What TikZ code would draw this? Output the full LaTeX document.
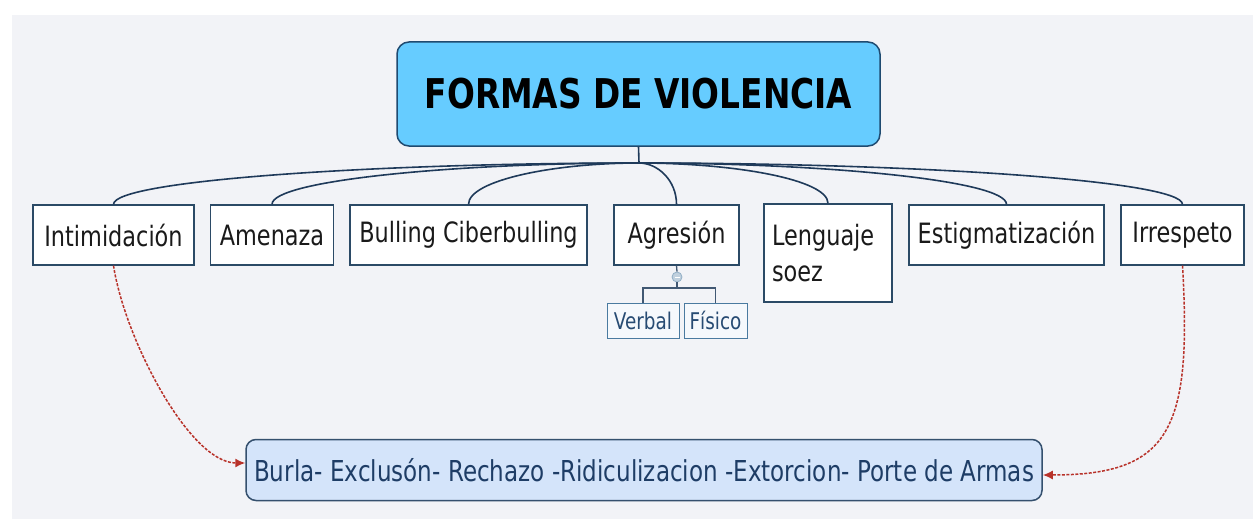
\documentclass[tikz,border=0pt]{standalone}
\usepackage{fontspec}
\setmainfont{DejaVu Sans}[FakeStretch=0.8]
\usetikzlibrary{arrows.meta,calc}
\definecolor{bggray}{HTML}{F2F3F7}
\definecolor{rootfill}{HTML}{66CCFF}
\definecolor{rootline}{HTML}{1F4A70}
\definecolor{branchcol}{HTML}{1F3A5A}
\definecolor{childline}{HTML}{2B4A66}
\definecolor{childtext}{HTML}{1A1A1A}
\definecolor{bottomfill}{HTML}{D4E4FA}
\definecolor{bottomline}{HTML}{35506E}
\definecolor{bottomtext}{HTML}{1E3D66}
\definecolor{subline}{HTML}{4A7AA0}
\definecolor{subfill}{HTML}{F5F8FC}
\definecolor{subtext}{HTML}{274B73}
\definecolor{redarrow}{HTML}{B8322A}
\tikzset{
  rootbox/.style={draw=rootline, line width=1.5pt, fill=rootfill, rounded corners=12pt,
    minimum width=483, minimum height=104, inner sep=0pt,
    font=\fontsize{41}{44}\selectfont\bfseries, text=black},
  childbox/.style={draw=childline, line width=1.3pt, fill=white, minimum height=60, inner sep=0pt,
    font=\fontsize{28}{36}\selectfont, text=childtext},
  subbox/.style={draw=subline, line width=1pt, fill=subfill, minimum height=35, inner sep=0pt,
    font=\fontsize{23}{25}\selectfont, text=subtext},
  bottombox/.style={draw=bottomline, line width=1.5pt, fill=bottomfill, rounded corners=10pt,
    minimum width=796, minimum height=61, inner sep=0pt,
    font=\fontsize{28.8}{32}\selectfont, text=bottomtext},
  branch/.style={draw=branchcol, line width=1.6pt},
  subbranch/.style={draw=branchcol!85, line width=1.3pt},
  relation/.style={draw=redarrow, line width=1.5pt, dash pattern=on 3pt off 1.5pt,
    -{Latex[length=10pt,width=9pt]}},
  knotstyle/.style={circle, draw=subline!60, fill=subline!35, line width=0.8pt, minimum size=10, inner sep=0pt},
}
\begin{document}
\begin{tikzpicture}[x=1pt,y=-1pt]
\useasboundingbox (0,0) rectangle (1253,519);
\fill[white] (0,0) rectangle (1253,519);
\fill[bggray] (12,15) rectangle (1253,519);

\node[rootbox] (root) at (638.5,94) {FORMAS DE VIOLENCIA};
\coordinate (hub) at (639,163);

\node[childbox, minimum width=161] (int) at (113.5,235) {Intimidación};
\node[childbox, minimum width=123] (ame) at (272,235) {Amenaza};
\node[childbox, minimum width=237] (bul) at (468.5,235) {Bulling Ciberbulling};
\node[childbox, minimum width=125] (agr) at (676.5,235) {Agresión};
\node[childbox, minimum width=128, minimum height=98, align=left, text width=112] (len) at (828,253) {Lenguaje\\soez};
\node[childbox, minimum width=195] (est) at (1006.5,235) {Estigmatización};
\node[childbox, minimum width=123] (irr) at (1182.5,235) {Irrespeto};

\draw[branch] (root.south) -- (hub);
\foreach \c in {int,ame,bul,agr,len,est,irr}{
  \draw[branch] (hub) .. controls ($(hub)!0.5!(hub -| \c.north)$) and ($(\c.north)+(0,-24)$) .. (\c.north);
}

\node[knotstyle] (knot) at (677,277) {};
\draw[white, line width=1pt] ($(knot.center)+(-2.5,0)$) -- ($(knot.center)+(2.5,0)$);
\coordinate (split) at (677,288);
\node[subbox, minimum width=72] (ver) at (643,320.5) {Verbal};
\node[subbox, minimum width=63] (fis) at (715.5,320.5) {Físico};
\draw[subbranch] (agr.south) -- (knot.north);
\draw[subbranch] (knot.south) -- (split);
\draw[subbranch] (split) -| (ver.north);
\draw[subbranch] (split) -| (fis.north);

\node[bottombox] (bot) at (644,470) {Burla- Exclusón- Rechazo -Ridiculizacion -Extorcion- Porte de Armas};

\draw[relation] (int.south) .. controls (125,340) and (190,463) .. (bot.west |- 0,463);
\draw[relation] (irr.south) .. controls (1192,430) and (1170,475) .. (bot.east |- 0,475);
\end{tikzpicture}
\end{document}
